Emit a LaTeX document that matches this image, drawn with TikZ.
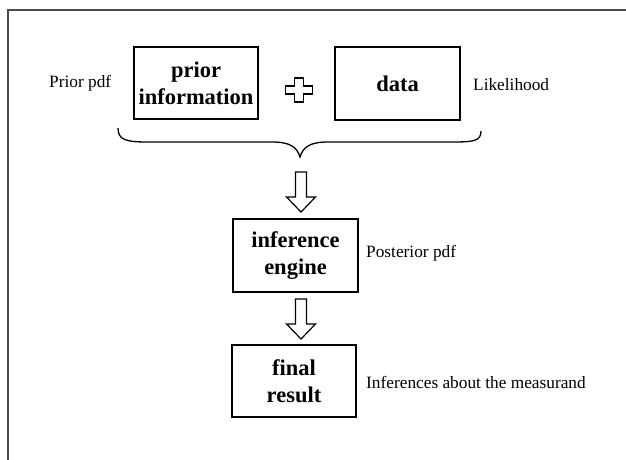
\documentclass[tikz,border=0pt]{standalone}
\usepackage{fontspec}
\setmainfont{Liberation Serif}
\begin{document}
\begin{tikzpicture}[x=1pt,y=-1pt,
  box/.style={draw, line width=1.4pt, inner sep=0pt, align=center,
    font=\fontsize{22.5}{27}\selectfont\bfseries},
  lbl/.style={inner sep=0pt, anchor=west, font=\fontsize{17.3}{20}\selectfont},
  harrow/.pic={\draw[line width=1.2pt, fill=white]
     (-5.5,0) -- (5.5,0) -- (5.5,25) -- (14.5,25) -- (0,40) -- (-14.5,25) -- (-5.5,25) -- cycle;}
]
\useasboundingbox (0,0) rectangle (626,460);
% frame
\draw[line width=1.8pt, black!70] (8,460) -- (8,10) -- (626,10);
% boxes
\node[box, minimum width=124pt, minimum height=72pt] (prior) at (196,83) {prior\\information};
\node[box, minimum width=125pt, minimum height=73pt] (data) at (397.5,83.5) {data};
\node[box, minimum width=125pt, minimum height=73pt] (inf) at (295.5,255.5) {inference\\engine};
\node[box, minimum width=124pt, minimum height=72pt] (fin) at (294,381) {final\\result};
% labels
\node[lbl] (lprior) at (49,83) {Prior pdf};
\node[lbl] (llik) at (473,85) {Likelihood};
\node[lbl] (lpost) at (366,253) {Posterior pdf};
\node[lbl] (linf) at (366,382) {Inferences about the measurand};
% plus sign
\draw[line width=1.2pt] (294.5,78) -- (303.5,78) -- (303.5,86) -- (312.5,86) -- (312.5,94) -- (303.5,94)
  -- (303.5,102) -- (294.5,102) -- (294.5,94) -- (285.5,94) -- (285.5,86) -- (294.5,86) -- cycle;
% brace
\coordinate (bl) at (118,128);
\coordinate (bt) at (300,157);
\coordinate (br) at (481,131);
\draw[line width=1.3pt] (bl) .. controls (118,140) and (126,142) .. (148,142) -- (272,142)
  .. controls (290,142) and (297,147) .. (bt)
  .. controls (303,147) and (310,142) .. (328,142) -- (452,142)
  .. controls (474,142) and (481,141) .. (br);
% hollow arrows
\coordinate (a1) at (301,172);
\coordinate (a2) at (301,299);
\pic at (a1) {harrow};
\pic at (a2) {harrow};
\end{tikzpicture}
\end{document}
